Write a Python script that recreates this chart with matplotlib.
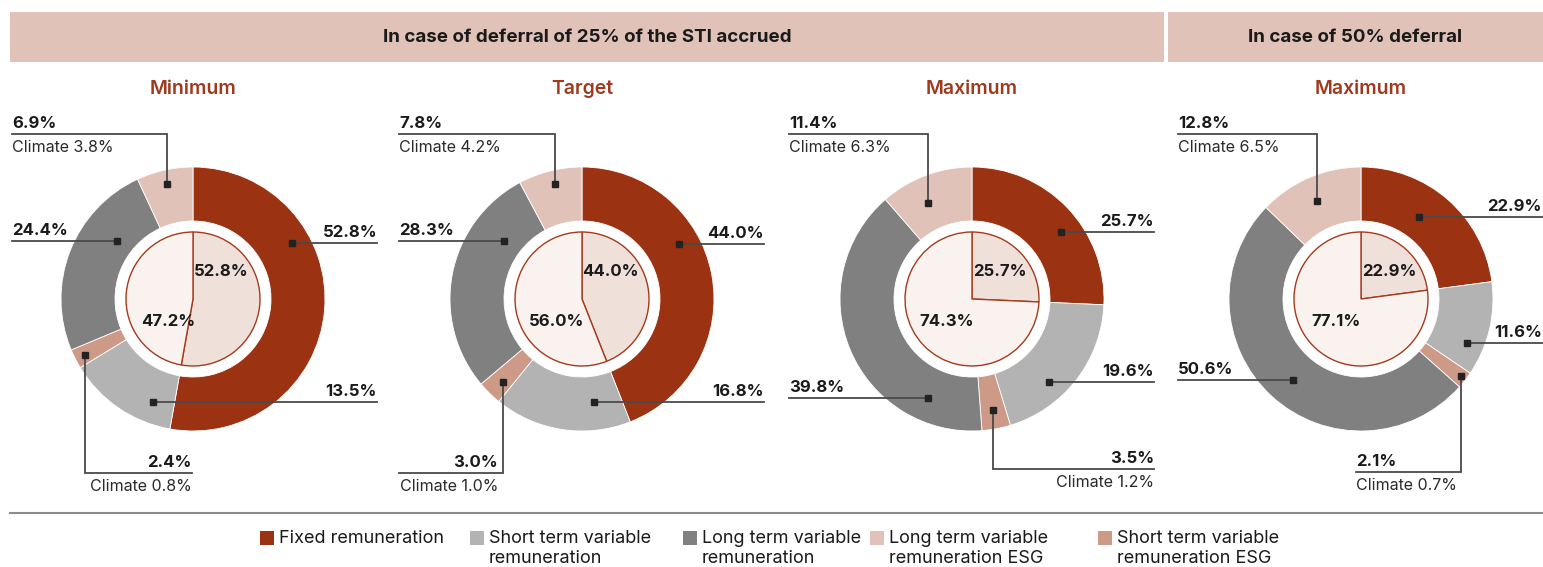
import matplotlib
matplotlib.use("Agg")
from matplotlib import pyplot as plt
from matplotlib.patches import Rectangle

plt.rcParams["font.family"] = ["Inter", "DejaVu Sans"]

# data
panel_titles = ["Minimum", "Target", "Maximum", "Maximum"]
header_titles = ["In case of deferral of 25% of the STI accrued", "In case of 50% deferral"]
series_names = [
    "Fixed remuneration",
    "Short term variable\nremuneration",
    "Short term variable\nremuneration ESG",
    "Long term variable\nremuneration",
    "Long term variable\nremuneration ESG",
]
fixed = [52.8, 44.0, 25.7, 22.9]
short_var = [13.5, 16.8, 19.6, 11.6]
short_esg = [2.4, 3.0, 3.5, 2.1]
long_var = [24.4, 28.3, 39.8, 50.6]
long_esg = [6.9, 7.8, 11.4, 12.8]
climate_short = [0.8, 1.0, 1.2, 0.7]
climate_long = [3.8, 4.2, 6.3, 6.5]
inner_fixed = [52.8, 44.0, 25.7, 22.9]
inner_variable = [47.2, 56.0, 74.3, 77.1]

colors = ["#9B3313", "#B3B3B3", "#CE9A88", "#808080", "#E0C2B8"]
legend_order = [0, 1, 3, 4, 2]
inner_colors = ["#F0E0DA", "#F9F2EF"]
band_color = "#E0C2B8"
title_color = "#9E3A1E"
text_color = "#1A1A1A"
line_color = "#4A4A4A"

# layout (pixels, y measured from the top)
W, H = 1543, 567
centers = [193, 582, 972, 1361]
cy = 299
R_OUT, R_RING_IN, R_PIE = 132, 78, 67

# per panel, per series: marker x, marker y, line y, line end x, text x, text align
leaders = [
    [(292, 243, 243, 377, 377, "right"), (153, 402, 402, 377, 377, "right"),
     (85, 355, 473, 192, 192, "right"), (117, 241, 241, 12, 12, "left"),
     (167, 184, 134, 12, 12, "left")],
    [(679, 244, 244, 764, 764, "right"), (594, 402, 402, 764, 764, "right"),
     (503, 382, 473, 399, 498, "right"), (504, 241, 241, 399, 399, "left"),
     (555, 184, 134, 399, 399, "left")],
    [(1061, 232, 232, 1154, 1154, "right"), (1049, 382, 382, 1154, 1154, "right"),
     (993, 410, 469, 1154, 1154, "right"), (928, 398, 398, 789, 789, "left"),
     (928, 203, 134, 789, 789, "left")],
    [(1419, 217, 217, 1543, 1542, "right"), (1467, 343, 343, 1543, 1542, "right"),
     (1461, 376, 472, 1356, 1356, "left"), (1293, 380, 380, 1178, 1178, "left"),
     (1317, 201, 134, 1178, 1178, "left")],
]

fig = plt.figure(figsize=(W / 100, H / 100), dpi=100)
ax = fig.add_axes([0, 0, 1, 1])

# header bands
ax.add_patch(Rectangle((10, 12), 1154, 50, color=band_color, lw=0))
ax.add_patch(Rectangle((1168, 12), W - 1168, 50, color=band_color, lw=0))
ax.text((10 + 1164) / 2, 38, header_titles[0], ha="center", va="center",
        fontsize=13.5, fontweight="bold", color=text_color)
ax.text((1168 + W) / 2, 38, header_titles[1], ha="center", va="center",
        fontsize=13.5, fontweight="bold", color=text_color)

for i, cx in enumerate(centers):
    ax.text(cx, 89, panel_titles[i], ha="center", va="center", fontsize=14,
            fontweight="semibold", color=title_color)

    values = [fixed[i], short_var[i], short_esg[i], long_var[i], long_esg[i]]
    # y axis is inverted: startangle=-90 is the top, counterclock=True runs clockwise on screen
    ax.pie(values, colors=colors, center=(cx, cy), radius=R_OUT, startangle=-90,
           counterclock=True, frame=True,
           wedgeprops=dict(width=R_OUT - R_RING_IN, edgecolor="white", linewidth=0.6))
    ax.pie([inner_fixed[i], inner_variable[i]], colors=inner_colors, center=(cx, cy),
           radius=R_PIE, startangle=-90, counterclock=True, frame=True,
           wedgeprops=dict(edgecolor="#A53A1C", linewidth=1.0))
    ax.text(cx + 28, cy - 27, f"{inner_fixed[i]:.1f}%", ha="center", va="center",
            fontsize=12, fontweight="bold", color=text_color)
    ax.text(cx - 25, cy + 22, f"{inner_variable[i]:.1f}%", ha="center", va="center",
            fontsize=12, fontweight="bold", color=text_color)

    climates = [None, None, climate_short[i], None, climate_long[i]]
    for k, (mx, my, ly, lx, tx, ha) in enumerate(leaders[i]):
        ax.plot([mx, mx, lx], [my, ly, ly], color=line_color, lw=1.3,
                solid_joinstyle="miter")
        ax.plot(mx, my, "s", ms=4, color="#222222")
        ax.text(tx, ly - 3, f"{values[k]:.1f}%", ha=ha, va="bottom",
                fontsize=12, fontweight="bold", color=text_color)
        if climates[k] is not None:
            ax.text(tx, ly + 6, f"Climate {climates[k]:.1f}%", ha=ha, va="top",
                    fontsize=11.5, color="#2A2A2A")

# separator
ax.plot([10, W], [513, 513], color="#8C8C8C", lw=1.5)

# legend
legend_x = [260, 470, 683, 870, 1098]
for x, k in zip(legend_x, legend_order):
    ax.add_patch(Rectangle((x, 531), 14, 14, color=colors[k], lw=0))
    ax.text(x + 19, 530, series_names[k], ha="left", va="top", fontsize=13,
            color=text_color, linespacing=1.2)

ax.set_xlim(0, W)
ax.set_ylim(H, 0)
ax.set_aspect("auto")
ax.axis("off")

fig.savefig("out.png", dpi=100)
